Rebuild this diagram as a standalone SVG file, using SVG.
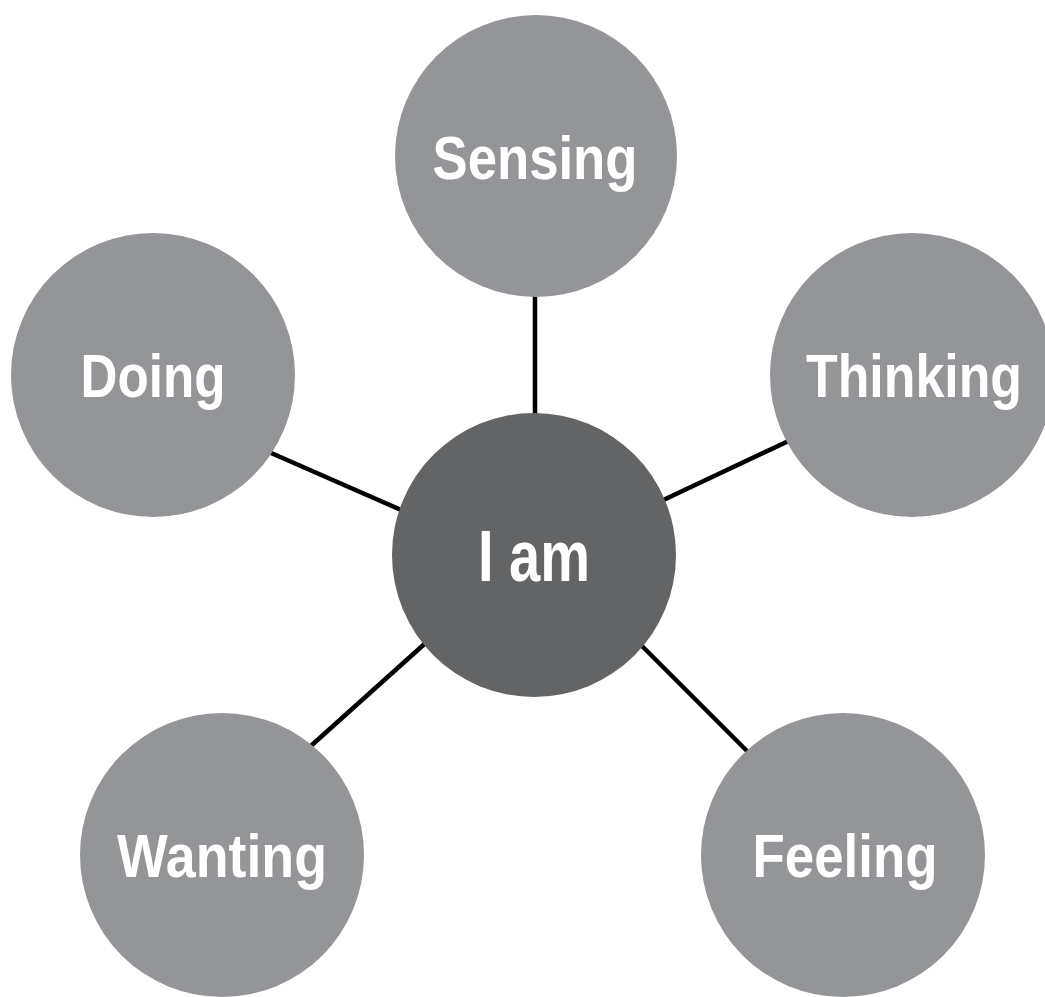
<svg xmlns="http://www.w3.org/2000/svg" width="1045" height="997" viewBox="0 0 1045 997">
<style>
.outer{fill:#939598}
.center{fill:#636466}
.lbl{font-family:"Liberation Sans Narrow","Liberation Sans",Arial,sans-serif;font-weight:bold;fill:#ffffff;text-anchor:middle}
.conn line{stroke:#000000;stroke-width:4.5;stroke-linecap:butt}
</style>
<rect width="1045" height="997" fill="#ffffff"/>
<g id="connectors" class="conn">
<line x1="535" y1="290" x2="535" y2="420"/>
<line x1="262" y1="449" x2="408" y2="513"/>
<line x1="657" y1="503" x2="795" y2="438"/>
<line x1="303" y1="753" x2="430" y2="639"/>
<line x1="636" y1="640" x2="754" y2="758"/>
</g>
<g id="node-sensing">
<circle class="outer" cx="536" cy="156" r="141"/>
<text class="lbl" x="535" y="179" font-size="61" textLength="205" lengthAdjust="spacingAndGlyphs">Sensing</text>
</g>
<g id="node-doing">
<circle class="outer" cx="153" cy="375" r="142"/>
<text class="lbl" x="153" y="397" font-size="61" textLength="145" lengthAdjust="spacingAndGlyphs">Doing</text>
</g>
<g id="node-thinking">
<circle class="outer" cx="912" cy="375" r="142"/>
<text class="lbl" x="914" y="397" font-size="61" textLength="216" lengthAdjust="spacingAndGlyphs">Thinking</text>
</g>
<g id="node-iam">
<circle class="center" cx="534" cy="555" r="142"/>
<text class="lbl" x="534" y="581" font-size="72" textLength="112" lengthAdjust="spacingAndGlyphs">I am</text>
</g>
<g id="node-wanting">
<circle class="outer" cx="222" cy="855" r="142"/>
<text class="lbl" x="222" y="877" font-size="61" textLength="210" lengthAdjust="spacingAndGlyphs">Wanting</text>
</g>
<g id="node-feeling">
<circle class="outer" cx="843" cy="855" r="142"/>
<text class="lbl" x="845" y="877" font-size="61" textLength="185" lengthAdjust="spacingAndGlyphs">Feeling</text>
</g>
</svg>
